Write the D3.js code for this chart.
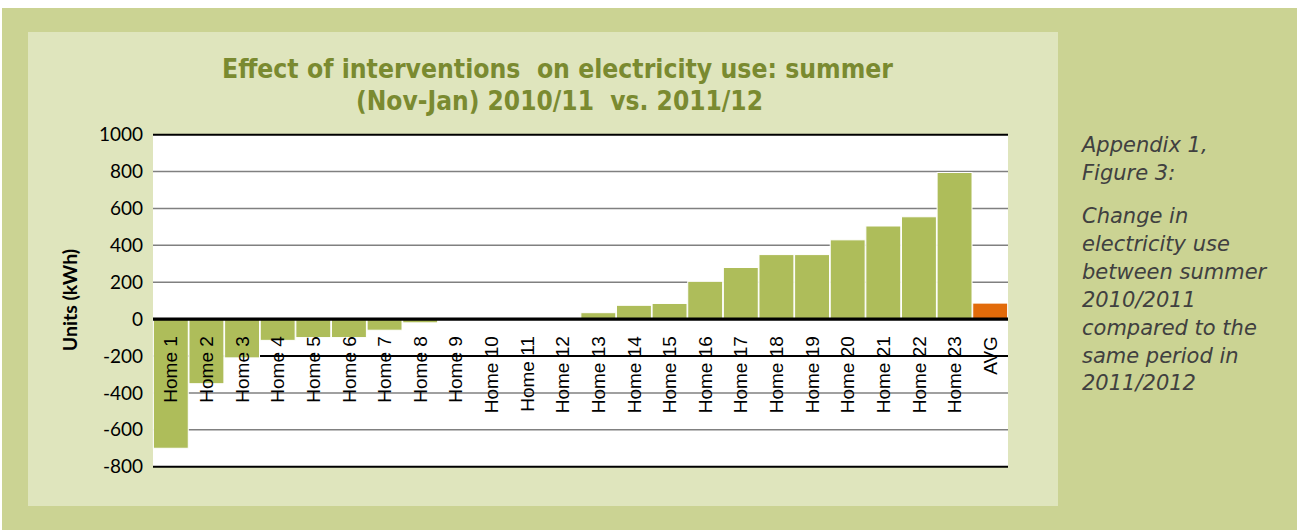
<!DOCTYPE html>
<html>
<head>
<meta charset="utf-8">
<script src="https://cdn.jsdelivr.net/npm/d3@7"></script>
<style>
  html, body { margin: 0; padding: 0; background: #ffffff; }
  svg { display: block; }
</style>
</head>
<body>
<svg id="chart" width="1297" height="530"></svg>
<script>
const categories = ["Home 1","Home 2","Home 3","Home 4","Home 5","Home 6","Home 7","Home 8","Home 9","Home 10","Home 11","Home 12","Home 13","Home 14","Home 15","Home 16","Home 17","Home 18","Home 19","Home 20","Home 21","Home 22","Home 23","AVG"];
const values = [-700,-350,-210,-115,-100,-100,-60,-20,0,0,0,0,35,75,85,205,280,350,350,430,505,555,795,87];
const yTicks = [1000,800,600,400,200,0,-200,-400,-600,-800];
const titleLines = ["Effect of interventions  on electricity use: summer", "(Nov-Jan) 2010/11  vs. 2011/12"];
const yAxisTitle = "Units (kWh)";
const captionLines = ["Appendix 1,", "Figure 3:", "", "Change in", "electricity use", "between summer", "2010/2011", "compared to the", "same period in", "2011/2012"];

const svg = d3.select("#chart");

// backgrounds
svg.append("rect").attr("x", 2).attr("y", 8).attr("width", 1295).attr("height", 522).attr("fill", "#cbd393");
svg.append("rect").attr("x", 28).attr("y", 32).attr("width", 1030).attr("height", 474).attr("fill", "#dfe5bd");

const plot = { left: 153, right: 1008, top: 134.7, bottom: 466.7 };
svg.append("rect").attr("x", plot.left).attr("y", plot.top)
  .attr("width", plot.right - plot.left).attr("height", plot.bottom - plot.top).attr("fill", "#ffffff");

const x = d3.scaleBand().domain(categories).range([plot.left, plot.right]).paddingInner(0.02).paddingOuter(0.01);
const y = d3.scaleLinear().domain([-800, 1000]).range([plot.bottom, plot.top]);

// gridlines
const blackLines = new Set([1000, -800, -200]);
svg.append("g").selectAll("line").data(yTicks.filter(d => d !== 0)).join("line")
  .attr("x1", plot.left).attr("x2", plot.right)
  .attr("y1", d => y(d)).attr("y2", d => y(d))
  .attr("stroke", d => blackLines.has(d) ? "#000000" : "#808080")
  .attr("stroke-width", d => blackLines.has(d) ? 2 : 1.5);

// bars
svg.append("g").selectAll("rect").data(categories).join("rect")
  .attr("x", d => x(d))
  .attr("width", x.bandwidth())
  .attr("y", (d, i) => Math.min(y(values[i]), y(0)))
  .attr("height", (d, i) => Math.abs(y(values[i]) - y(0)))
  .attr("fill", d => d === "AVG" ? "#e26b0a" : "#aebd5a")
  .attr("stroke", "#ffffff").attr("stroke-width", 1);

// zero line
svg.append("line").attr("x1", plot.left).attr("x2", plot.right)
  .attr("y1", y(0)).attr("y2", y(0)).attr("stroke", "#000000").attr("stroke-width", 3.2);

// y axis labels
const yAxis = d3.axisLeft(y).tickValues(yTicks).tickSize(0).tickPadding(10).tickFormat(d => String(d));
const ya = svg.append("g").attr("transform", `translate(${plot.left},0)`).call(yAxis);
ya.select(".domain").remove();
ya.selectAll("text").attr("font-family", "Lato, sans-serif").attr("font-size", 19).attr("fill", "#000");

// y axis title
svg.append("text").attr("transform", "translate(77,300) rotate(-90)")
  .attr("text-anchor", "middle").attr("font-family", "Lato, sans-serif").attr("font-weight", "bold")
  .attr("font-size", 19.5).attr("fill", "#000").text(yAxisTitle);

// category labels
const xa = svg.append("g").attr("transform", `translate(0,${y(0)})`)
  .call(d3.axisBottom(x).tickSize(0).tickPadding(0));
xa.select(".domain").remove();
xa.selectAll("text")
  .attr("font-family", "'Liberation Sans', Arial, sans-serif").attr("font-size", 19).attr("fill", "#000")
  .attr("text-anchor", "end")
  .attr("transform", "translate(0,17) rotate(-90)")
  .attr("x", 0).attr("y", 0).attr("dy", "0.35em");

// title
const tt = svg.append("g").attr("font-family", "'DejaVu Sans', Verdana, sans-serif").attr("font-weight", "bold")
  .attr("fill", "#7a8a30").attr("font-size", 26).attr("text-anchor", "middle");
tt.append("text").attr("x", 557.5).attr("y", 78).attr("textLength", 671).attr("lengthAdjust", "spacingAndGlyphs")
  .attr("xml:space", "preserve").text(titleLines[0]);
tt.append("text").attr("x", 559.5).attr("y", 110).attr("textLength", 407).attr("lengthAdjust", "spacingAndGlyphs")
  .attr("xml:space", "preserve").text(titleLines[1]);

// caption
const cap = svg.append("g").attr("font-family", "'DejaVu Sans', Verdana, sans-serif").attr("font-style", "italic")
  .attr("fill", "#404040").attr("font-size", 21);
const capY = [152, 179.5, null, 223, 251, 279, 307, 335, 362.5, 390];
captionLines.forEach((t, i) => {
  if (!t) return;
  cap.append("text").attr("x", 1082).attr("y", capY[i]).text(t);
});
</script>
</body>
</html>
